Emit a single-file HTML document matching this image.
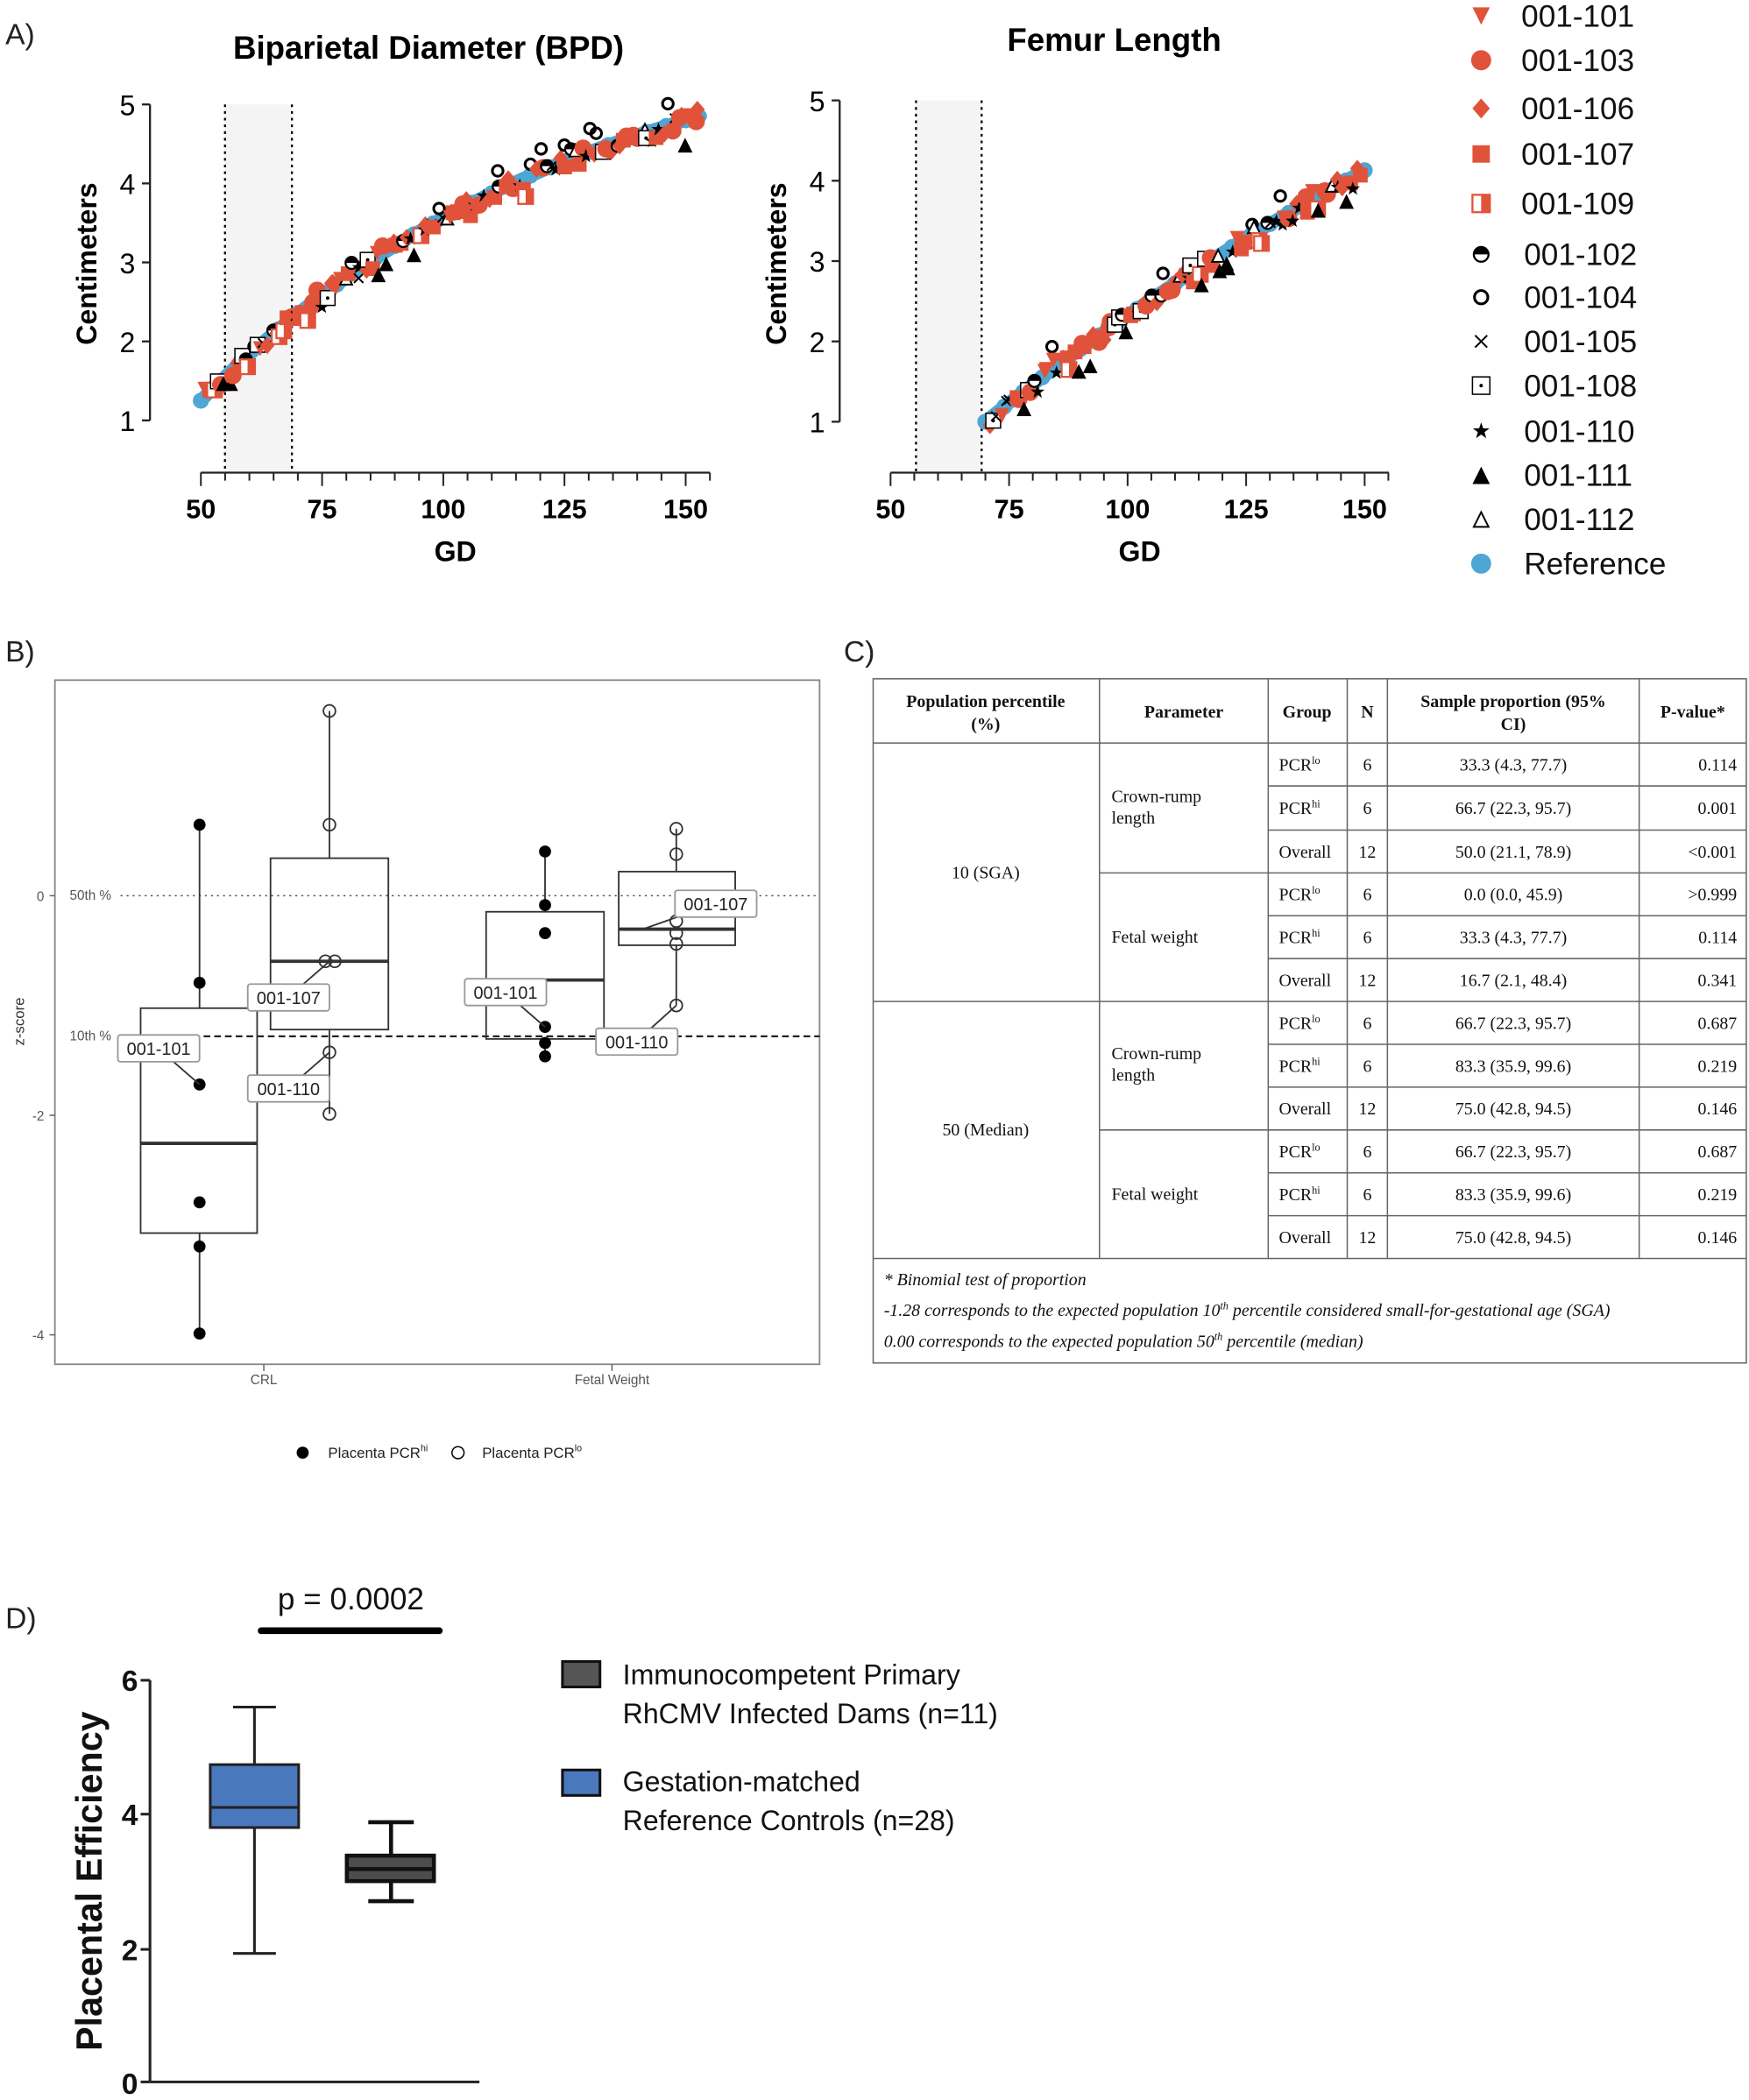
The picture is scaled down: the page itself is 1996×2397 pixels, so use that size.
<!DOCTYPE html>
<html><head><meta charset="utf-8">
<style>
html,body{margin:0;padding:0;background:#fff;}
svg{display:block;}
.s{font-family:"Liberation Sans",sans-serif;}
.r{font-family:"Liberation Serif",serif;}
</style></head>
<body>
<svg id="g" width="1996" height="2397" viewBox="0 0 1306 1568.5" preserveAspectRatio="none" xmlns="http://www.w3.org/2000/svg">
<rect width="1306" height="1569" fill="#fff"/>
<g class="s" font-size="22" fill="#222">
<text x="4" y="33">A)</text>
<text x="4" y="494">B)</text>
<text x="630" y="494">C)</text>
<text x="4" y="1216">D)</text>
</g>
<text class="s" x="320" y="44" font-size="24" font-weight="bold" text-anchor="middle">Biparietal Diameter (BPD)</text>
<rect x="168" y="78" width="50" height="275" fill="#f4f4f4"/>
<line x1="168" y1="78" x2="168" y2="353" stroke="#000" stroke-width="1.5" stroke-dasharray="2,3"/>
<line x1="218" y1="78" x2="218" y2="353" stroke="#000" stroke-width="1.5" stroke-dasharray="2,3"/>
<text class="s" x="832" y="38" font-size="24" font-weight="bold" text-anchor="middle">Femur Length</text>
<rect x="684" y="75" width="49" height="278" fill="#f4f4f4"/>
<line x1="684" y1="75" x2="684" y2="353" stroke="#000" stroke-width="1.5" stroke-dasharray="2,3"/>
<line x1="733" y1="75" x2="733" y2="353" stroke="#000" stroke-width="1.5" stroke-dasharray="2,3"/>
<g id="axA"></g>
<g id="ptsA"></g>
<g id="legA" class="s" font-size="23" fill="#111"></g>

<rect x="41" y="508" width="571" height="511" fill="#fff" stroke="#888" stroke-width="1.2"/>
<line x1="90" y1="669" x2="612" y2="669" stroke="#555" stroke-width="1" stroke-dasharray="1.5,3"/>
<line x1="88" y1="774" x2="612" y2="774" stroke="#222" stroke-width="1.5" stroke-dasharray="5,3"/>
<g class="s" font-size="10" fill="#555">
<text x="52" y="672">50th %</text>
<text x="52" y="777">10th %</text>
<text x="33" y="673" text-anchor="end">0</text>
<text x="33" y="837" text-anchor="end">-2</text>
<text x="33" y="1001" text-anchor="end">-4</text>
<text x="197" y="1034" text-anchor="middle">CRL</text>
<text x="457" y="1034" text-anchor="middle">Fetal Weight</text>
<text transform="translate(18,763) rotate(-90)" text-anchor="middle" font-size="11" fill="#333">z-score</text>
</g>
<g stroke="#666" stroke-width="1">
<line x1="37" y1="669" x2="41" y2="669"/><line x1="37" y1="833" x2="41" y2="833"/><line x1="37" y1="997" x2="41" y2="997"/>
<line x1="197" y1="1019" x2="197" y2="1024"/><line x1="457" y1="1019" x2="457" y2="1024"/>
</g>
<g id="boxB" stroke="#333" fill="none" stroke-width="1.2"></g>
<g class="s" font-size="11" fill="#222">
<circle cx="226" cy="1085" r="4.5" fill="#000"/>
<text x="245" y="1089">Placenta PCR<tspan font-size="7" dy="-5">hi</tspan></text>
<circle cx="342" cy="1085" r="4.5" fill="none" stroke="#000"/>
<text x="360" y="1089">Placenta PCR<tspan font-size="7" dy="-5">lo</tspan></text>
</g>

<g id="tbl"></g>

<text class="s" x="262" y="1202" font-size="23" text-anchor="middle" fill="#111">p = 0.0002</text>
<line x1="195" y1="1218" x2="328" y2="1218" stroke="#000" stroke-width="5" stroke-linecap="round"/>
<g stroke="#222" stroke-width="2" fill="none">
<line x1="112" y1="1255" x2="112" y2="1555"/>
<line x1="112" y1="1555" x2="358" y2="1555"/>
<line x1="105" y1="1255" x2="112" y2="1255"/><line x1="105" y1="1355" x2="112" y2="1355"/><line x1="105" y1="1456" x2="112" y2="1456"/><line x1="105" y1="1555" x2="112" y2="1555"/>
</g>
<g class="s" font-size="22" font-weight="bold" text-anchor="end" fill="#111">
<text x="103" y="1263">6</text><text x="103" y="1363">4</text><text x="103" y="1464">2</text><text x="103" y="1564">0</text>
</g>
<text class="s" transform="translate(76,1405) rotate(-90)" font-size="27" font-weight="bold" text-anchor="middle" fill="#111">Placental Efficiency</text>
<g stroke="#222" stroke-width="2">
<line x1="190" y1="1275" x2="190" y2="1318"/><line x1="190" y1="1365" x2="190" y2="1459"/>
<line x1="174" y1="1275" x2="206" y2="1275"/><line x1="174" y1="1459" x2="206" y2="1459"/>
<rect x="157" y="1318" width="66" height="47" fill="#4a78bd"/>
<line x1="157" y1="1350" x2="223" y2="1350"/>
</g>
<g stroke="#111" stroke-width="3">
<line x1="292" y1="1361" x2="292" y2="1386"/><line x1="292" y1="1405" x2="292" y2="1420"/>
<line x1="275" y1="1361" x2="309" y2="1361"/><line x1="275" y1="1420" x2="309" y2="1420"/>
<rect x="259" y="1386" width="65" height="19" fill="#4d4d4d"/>
<line x1="259" y1="1396" x2="324" y2="1396"/>
</g>
<rect x="420" y="1241" width="28" height="19" fill="#555" stroke="#111" stroke-width="2"/>
<rect x="420" y="1322" width="28" height="19" fill="#4a78bd" stroke="#111" stroke-width="2"/>
<g class="s" font-size="21" fill="#111">
<text x="465" y="1258">Immunocompetent Primary</text>
<text x="465" y="1287">RhCMV Infected Dams (n=11)</text>
<text x="465" y="1338">Gestation-matched</text>
<text x="465" y="1367">Reference Controls (n=28)</text>
</g>
</svg>
<script>
var NS="http://www.w3.org/2000/svg";
function el(p,t,a,txt){var e=document.createElementNS(NS,t);for(var k in a)e.setAttribute(k,a[k]);if(txt!==undefined)e.textContent=txt;p.appendChild(e);return e;}
var ax=document.getElementById('axA');
function axes(yx,ys,xs,xe,x0,per,xlab,gx){
 el(ax,'line',{x1:yx,y1:ys[4],x2:yx,y2:ys[0],stroke:'#222','stroke-width':1.5});
 for(var i=0;i<5;i++){el(ax,'line',{x1:yx-6,y1:ys[i],x2:yx,y2:ys[i],stroke:'#222','stroke-width':1.5});
  el(ax,'text',{x:yx-11,y:ys[i]+8,'font-size':21,'text-anchor':'end','font-family':'Liberation Sans,sans-serif'},String(5-i));}
 el(ax,'line',{x1:xs,y1:353,x2:xe,y2:353,stroke:'#222','stroke-width':1.5});
 for(var g=50;g<=155;g+=5){var x=x0+(g-50)*per;if(x>xe+1)break;el(ax,'line',{x1:x,y1:353,x2:x,y2:g%25==0?363:359,stroke:'#222','stroke-width':1.3});}
 [50,75,100,125,150].forEach(function(g){el(ax,'text',{x:x0+(g-50)*per,y:387,'font-size':20,'font-weight':'bold','text-anchor':'middle','font-family':'Liberation Sans,sans-serif'},String(g));});
 el(ax,'text',{x:gx,y:419,'font-size':21,'font-weight':'bold','text-anchor':'middle','font-family':'Liberation Sans,sans-serif'},'GD');
 el(ax,'text',{transform:'translate('+(yx-40)+',197) rotate(-90)','font-size':21,'font-weight':'bold','text-anchor':'middle','font-family':'Liberation Sans,sans-serif'},'Centimeters');
}
axes(112,[78,137,196,255,314],150,530,150,3.62,'GD',340);
axes(627,[75,135,195,255,315],665,1037,665,3.54,'GD',851);
var seed=7;function rnd(){seed=(seed*16807)%2147483647;return seed/2147483647;}
var P=document.getElementById('ptsA');
var RED='#e0533a';
function bpd(g){return 1.25+3.55*(1-Math.exp(-(g-50)/80))/(1-Math.exp(-100/80));}
function fem(g){return 1+3.13*(1-Math.exp(-(g-70)/200))/(1-Math.exp(-0.4));}
function mark(p,t,x,y,s){s=s||6;
 switch(t){
 case 'tri_dn':el(p,'path',{d:'M'+(x-s)+' '+(y-s)+'L'+(x+s)+' '+(y-s)+'L'+x+' '+(y+s)+'Z',fill:RED});break;
 case 'circR':el(p,'circle',{cx:x,cy:y,r:s+1,fill:RED});break;
 case 'dia':el(p,'path',{d:'M'+x+' '+(y-s-1)+'L'+(x+s)+' '+y+'L'+x+' '+(y+s+1)+'L'+(x-s)+' '+y+'Z',fill:RED});break;
 case 'sqR':el(p,'rect',{x:x-s,y:y-s,width:2*s,height:2*s,fill:RED});break;
 case 'sqH':el(p,'rect',{x:x-s,y:y-s,width:2*s,height:2*s,fill:'#fff',stroke:RED,'stroke-width':1.5});el(p,'rect',{x:x,y:y-s,width:s,height:2*s,fill:RED});break;
 case 'halfC':el(p,'circle',{cx:x,cy:y,r:s-1,fill:'#fff',stroke:'#000','stroke-width':1.5});el(p,'path',{d:'M'+(x-s+1)+' '+y+'A'+(s-1)+' '+(s-1)+' 0 0 1 '+(x+s-1)+' '+y+'Z',fill:'#000'});break;
 case 'oC':el(p,'circle',{cx:x,cy:y,r:s-1.5,fill:'none',stroke:'#000','stroke-width':2});break;
 case 'x':el(p,'path',{d:'M'+(x-s+2)+' '+(y-s+2)+'L'+(x+s-2)+' '+(y+s-2)+'M'+(x+s-2)+' '+(y-s+2)+'L'+(x-s+2)+' '+(y+s-2),stroke:'#000','stroke-width':1.3});break;
 case 'sqD':el(p,'rect',{x:x-s,y:y-s,width:2*s,height:2*s,fill:'#fff',stroke:'#000','stroke-width':1});el(p,'circle',{cx:x,cy:y,r:1.3,fill:'#000'});break;
 case 'star':var d='';for(var i=0;i<10;i++){var a=-Math.PI/2+i*Math.PI/5,r=i%2?s*0.4:s;d+=(i?'L':'M')+(x+r*Math.cos(a)).toFixed(1)+' '+(y+r*Math.sin(a)).toFixed(1);}el(p,'path',{d:d+'Z',fill:'#000'});break;
 case 'triB':el(p,'path',{d:'M'+x+' '+(y-s)+'L'+(x+s)+' '+(y+s)+'L'+(x-s)+' '+(y+s)+'Z',fill:'#000'});break;
 case 'triO':el(p,'path',{d:'M'+x+' '+(y-s+1)+'L'+(x+s-1)+' '+(y+s-1)+'L'+(x-s+1)+' '+(y+s-1)+'Z',fill:'#fff',stroke:'#000','stroke-width':1.3});break;
 case 'ref':el(p,'circle',{cx:x,cy:y,r:s+1,fill:'#4ea6d3'});break;
 }}
var types=['tri_dn','circR','dia','sqR','sqH','halfC','oC','x','sqD','star','triB','triO','circR','dia','sqR'];
var bias={'oC':0.22,'triB':-0.25,'sqH':-0.15,'star':-0.08,'halfC':0.05,'sqR':-0.05};
function curve(f,g0,g1,x0,per,y1,ppu){
 var d='';for(var g=g0;g<=g1;g+=1){var x=x0+(g-50)*per,y=y1-(f(g)-1)*ppu;d+=(g==g0?'M':'L')+x.toFixed(1)+' '+y.toFixed(1);}
 el(P,'path',{d:d,stroke:'#4ea6d3','stroke-width':10,fill:'none','stroke-linecap':'round'});
 for(var g=g0;g<=g1;g+=4){mark(P,'ref',x0+(g-50)*per,y1-(f(g)-1)*ppu,5);}
 for(var g=g0+1;g<=g1;g+=0.8){var t=types[Math.floor(rnd()*types.length)];var b=bias[t]||0;var v=f(g)+b*(g>70?1:0.5)+(rnd()-0.5)*0.2;
  mark(P,t,x0+(g-50)*per+(rnd()-0.5)*3,y1-(v-1)*ppu,5.5);}
}
curve(bpd,50,153,150,3.62,314,59);
curve(fem,70,150,665,3.54,315,60);
var L=document.getElementById('legA');
var ly=[12,45,81,115,152,190,222,255,288,322,355,388,421];
var names=['001-101','001-103','001-106','001-107','001-109','001-102','001-104','001-105','001-108','001-110','001-111','001-112','Reference'];
var lt=['tri_dn','circR','dia','sqR','sqH','halfC','oC','x','sqD','star','triB','triO','ref'];
for(var i=0;i<13;i++){mark(L,lt[i],1106,ly[i],6.5);el(L,'text',{x:i<5?1136:1138,y:ly[i]+8},names[i]);}
var B=document.getElementById('boxB');
function box(x0,x1,q1,q3,md,wx,wt,wb){
 el(B,'line',{x1:wx,y1:wt,x2:wx,y2:q3});el(B,'line',{x1:wx,y1:q1,x2:wx,y2:wb});
 el(B,'rect',{x:x0,y:q3,width:x1-x0,height:q1-q3});el(B,'line',{x1:x0,y1:md,x2:x1,y2:md,'stroke-width':2.5});}
box(105,192,921,753,854,149,616,996);
box(202,290,769,641,718,246,531,832);
box(363,451,776,681,732,407,636,790);
box(462,549,706,651,694,505,619,751);
[616,734,810,898,931,996].forEach(function(y){el(B,'circle',{cx:149,cy:y,r:4.5,fill:'#000',stroke:'none'});});
[[246,531],[246,616],[243,718],[250,718],[246,786],[246,832]].forEach(function(p){el(B,'circle',{cx:p[0],cy:p[1],r:4.5,fill:'none'});});
[636,676,697,767,779,789].forEach(function(y){el(B,'circle',{cx:407,cy:y,r:4.5,fill:'#000',stroke:'none'});});
[619,638,688,697,705,751].forEach(function(y){el(B,'circle',{cx:505,cy:y,r:4.5,fill:'none'});});
function lab(x,y,t,px,py){el(B,'line',{x1:x+30,y1:y+10,x2:px,y2:py});
 el(B,'rect',{x:x,y:y,width:61,height:20,rx:2,fill:'#fff',stroke:'#999'});
 el(B,'text',{x:x+30.5,y:y+15,'font-size':13,'text-anchor':'middle',fill:'#222',stroke:'none','font-family':'Liberation Sans,sans-serif'},t);}
lab(88,773,'001-101',149,810);lab(185,735,'001-107',246,718);lab(185,803,'001-110',246,786);
lab(347,731,'001-101',407,767);lab(504,665,'001-107',480,694);lab(445,768,'001-110',505,751);
var T=document.getElementById('tbl');
var cx=[652,821,947,1006,1036,1224,1304];
var ry=[507,555,587,620,652,684,716,748,780,812,844,876,908,940];
function ln(a,b,c,d){el(T,'line',{x1:a,y1:b,x2:c,y2:d,stroke:'#666','stroke-width':1});}
el(T,'rect',{x:652,y:507,width:652,height:511,fill:'none',stroke:'#666','stroke-width':1});
for(var i=1;i<6;i++)ln(cx[i],507,cx[i],940);
ln(652,555,1304,555);ln(652,748,1304,748);ln(652,940,1304,940);
ln(821,652,1304,652);ln(821,844,1304,844);
for(var i=2;i<13;i++){if(i==4||i==7||i==10)continue;ln(947,ry[i],1304,ry[i]);}
function tx(x,y,t,o){var a={x:x,y:y,'font-size':13,fill:'#111','font-family':'Liberation Serif,serif'};for(var k in o)a[k]=o[k];return el(T,'text',a,t);}
var hb={'font-weight':'bold','text-anchor':'middle'};
tx(736,528,'Population percentile',hb);tx(736,545,'(%)',hb);tx(884,536,'Parameter',hb);tx(976,536,'Group',hb);tx(1021,536,'N',hb);
tx(1130,528,'Sample proportion (95%',hb);tx(1130,545,'CI)',hb);tx(1264,536,'P-value*',hb);
tx(736,656,'10 (SGA)',{'text-anchor':'middle'});tx(736,848,'50 (Median)',{'text-anchor':'middle'});
tx(830,599,'Crown-rump');tx(830,615,'length');tx(830,704,'Fetal weight');
tx(830,791,'Crown-rump');tx(830,807,'length');tx(830,896,'Fetal weight');
var rows=[['lo','6','33.3 (4.3, 77.7)','0.114'],['hi','6','66.7 (22.3, 95.7)','0.001'],['O','12','50.0 (21.1, 78.9)','<0.001'],
['lo','6','0.0 (0.0, 45.9)','>0.999'],['hi','6','33.3 (4.3, 77.7)','0.114'],['O','12','16.7 (2.1, 48.4)','0.341'],
['lo','6','66.7 (22.3, 95.7)','0.687'],['hi','6','83.3 (35.9, 99.6)','0.219'],['O','12','75.0 (42.8, 94.5)','0.146'],
['lo','6','66.7 (22.3, 95.7)','0.687'],['hi','6','83.3 (35.9, 99.6)','0.219'],['O','12','75.0 (42.8, 94.5)','0.146']];
rows.forEach(function(r,i){var y=(ry[i+1]+ry[i+2])/2+4.5;
 if(r[0]=='O')tx(955,y,'Overall');else{var t=tx(955,y,'PCR');var s=document.createElementNS(NS,'tspan');s.setAttribute('font-size','8');s.setAttribute('dy','-5');s.textContent=r[0];t.appendChild(s);}
 tx(1021,y,r[1],{'text-anchor':'middle'});tx(1130,y,r[2],{'text-anchor':'middle'});tx(1297,y,r[3],{'text-anchor':'end'});});
var it={'font-style':'italic'};
tx(660,960,'* Binomial test of proportion',it);
var t1=tx(660,983,'-1.28 corresponds to the expected population 10',it);var s1=document.createElementNS(NS,'tspan');s1.setAttribute('font-size','8');s1.setAttribute('dy','-5');s1.textContent='th';t1.appendChild(s1);
var s2=document.createElementNS(NS,'tspan');s2.setAttribute('dy','5');s2.textContent=' percentile considered small-for-gestational age (SGA)';t1.appendChild(s2);
var t2=tx(660,1006,'0.00 corresponds to the expected population 50',it);var s3=document.createElementNS(NS,'tspan');s3.setAttribute('font-size','8');s3.setAttribute('dy','-5');s3.textContent='th';t2.appendChild(s3);
var s4=document.createElementNS(NS,'tspan');s4.setAttribute('dy','5');s4.textContent=' percentile (median)';t2.appendChild(s4);
</script>
</body></html>
